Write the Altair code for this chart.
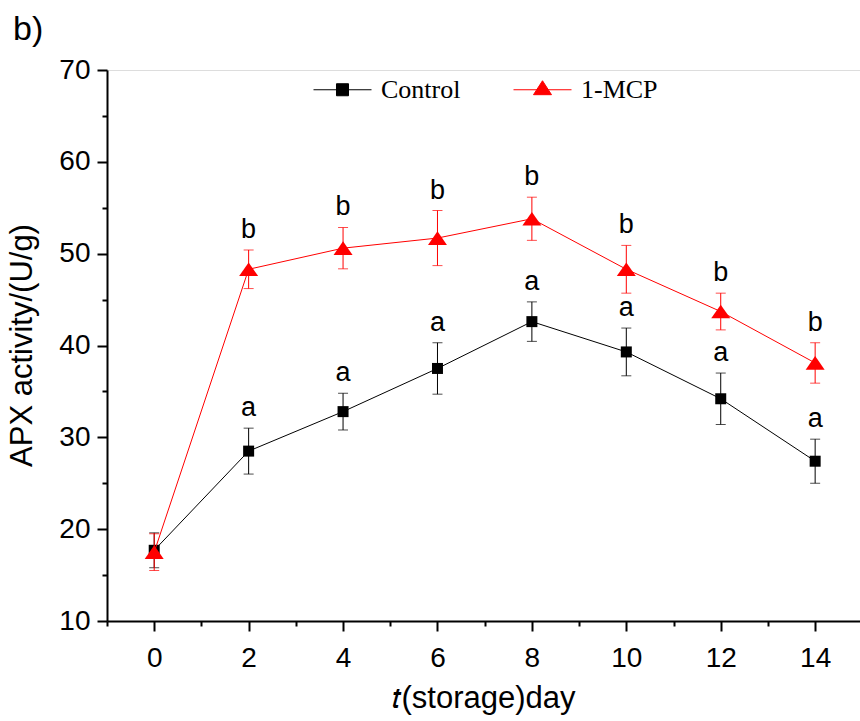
import altair as alt
import pandas as pd

days = [0, 2, 4, 6, 8, 10, 12, 14]
control_mean = [17.7, 28.5, 32.8, 37.5, 42.6, 39.3, 34.2, 27.4]
control_sd = [1.9, 2.5, 2.0, 2.8, 2.15, 2.6, 2.8, 2.4]
control_letters = ["", "a", "a", "a", "a", "a", "a", "a"]
mcp_mean = [17.5, 48.3, 50.6, 51.7, 53.8, 48.3, 43.7, 38.1]
mcp_sd = [2.0, 2.1, 2.25, 3.0, 2.35, 2.6, 2.0, 2.2]
mcp_letters = ["", "b", "b", "b", "b", "b", "b", "b"]
groups = ["Control", "1-MCP"]
colors = ["#000000", "#ff0000"]

x_ticks = list(range(-1, 15))
y_ticks = list(range(10, 71, 5))


def frame(mean, sd, letters, group):
    return pd.DataFrame({
        "day": days,
        "mean": mean,
        "lower": [m - s for m, s in zip(mean, sd)],
        "upper": [m + s for m, s in zip(mean, sd)],
        "letter": letters,
        "group": group,
    })


df_c = frame(control_mean, control_sd, control_letters, groups[0])
df_m = frame(mcp_mean, mcp_sd, mcp_letters, groups[1])
df_all = pd.concat([df_c, df_m], ignore_index=True)

FONT = "Liberation Sans"

x_enc = alt.X(
    "day:Q",
    scale=alt.Scale(domain=[-1, 14.95], nice=False, zero=False),
    axis=alt.Axis(
        values=x_ticks,
        labelExpr="datum.value % 2 == 0 ? datum.label : ''",
        tickSize={"condition": {"test": "datum.value % 2 == 0", "value": 10}, "value": 5},
        title="𝑡(storage)day",
        titleFont=FONT,
        titleFontSize=31,
        titleFontWeight="normal",
        titleColor="black",
        titleY=86,
        titleBaseline="alphabetic",
        labelFont=FONT,
        labelFontSize=28,
        labelColor="black",
        labelPadding=13,
        labelFlush=False,
        labelOverlap=False,
        grid=False,
        domainColor="black",
        domainWidth=2,
        tickColor="black",
        tickWidth=2,
    ),
)

y_scale = alt.Scale(domain=[10, 70], nice=False, zero=False)
y_axis = alt.Axis(
    values=y_ticks,
    labelExpr="datum.value % 10 == 0 ? datum.label : ''",
    tickSize={"condition": {"test": "datum.value % 10 == 0", "value": 10}, "value": 5},
    title="APX activity/(U/g)",
    titleFont=FONT,
    titleFontSize=31,
    titleFontWeight="normal",
    titleColor="black",
    titleX=-85,
    titleY=275,
    titleAngle=-90,
    titleAlign="center",
    titleBaseline="middle",
    labelFont=FONT,
    labelFontSize=28,
    labelColor="black",
    labelPadding=7,
    labelFlush=False,
    labelOverlap=False,
    grid=False,
    domainColor="black",
    domainWidth=2,
    tickColor="black",
    tickWidth=2,
)


def series_layers(df, color, shape, size):
    base = alt.Chart(df)
    line = base.mark_line(color=color, strokeWidth=1).encode(
        x=x_enc, y=alt.Y("mean:Q", scale=y_scale, axis=y_axis)
    )
    rule = base.mark_rule(color=color, strokeWidth=1).encode(
        x="day:Q", y="lower:Q", y2="upper:Q"
    )
    cap_lo = base.mark_tick(color=color, orient="horizontal", size=10, thickness=1).encode(
        x="day:Q", y="lower:Q"
    )
    cap_hi = base.mark_tick(color=color, orient="horizontal", size=10, thickness=1).encode(
        x="day:Q", y="upper:Q"
    )
    pts = base.mark_point(shape=shape, size=size, filled=True, color=color, opacity=1).encode(
        x="day:Q", y="mean:Q"
    )
    return [line, rule, cap_lo, cap_hi, pts]


tri_path = "M0,-0.72L1,0.72L-1,0.72Z"

layers = []
layers += series_layers(df_c, colors[0], "square", 121)
layers += series_layers(df_m, colors[1], tri_path, 361)

letters = alt.Chart(df_all).mark_text(
    font=FONT, fontSize=27, color="black", baseline="alphabetic", align="center", dy=-12
).encode(x="day:Q", y="upper:Q", text="letter:N")
layers.append(letters)

legend_paths = [
    "M-1,0L1,0M-0.207,-0.207L0.207,-0.207L0.207,0.207L-0.207,0.207Z",
    "M-1,0L1,0M0,-0.31L0.31,0.17L-0.31,0.17Z",
]
leg = alt.Legend(
    title=None,
    orient="none",
    legendX=206,
    legendY=-10,
    direction="horizontal",
    symbolSize=3364,
    symbolStrokeWidth=1,
    labelFont="Liberation Serif",
    labelFontSize=26,
    labelColor="black",
    labelOffset=9,
    labelLimit=300,
    columnPadding=50,
    padding=0,
)
legend_layer = alt.Chart(df_all).transform_filter("false").mark_point(filled=True, opacity=1).encode(
    x="day:Q",
    y="mean:Q",
    fill=alt.Fill("group:N", scale=alt.Scale(domain=groups, range=colors), legend=leg),
    stroke=alt.Stroke("group:N", scale=alt.Scale(domain=groups, range=colors), legend=leg),
    shape=alt.Shape("group:N", scale=alt.Scale(domain=groups, range=legend_paths), legend=leg),
)
layers.append(legend_layer)

chart = alt.layer(*layers).properties(
    width=753,
    height=551,
    autosize="none",
    padding={"left": 107, "top": 70, "right": 0, "bottom": 100},
    title=alt.TitleParams(
        "b)",
        anchor="start",
        frame="group",
        dx=-94,
        offset=9,
        font=FONT,
        fontSize=34,
        fontWeight="normal",
        color="black",
    ),
).configure_view(stroke=None).configure(background="white")

chart.save("out.html", embed_options={"renderer": "svg", "actions": False})
